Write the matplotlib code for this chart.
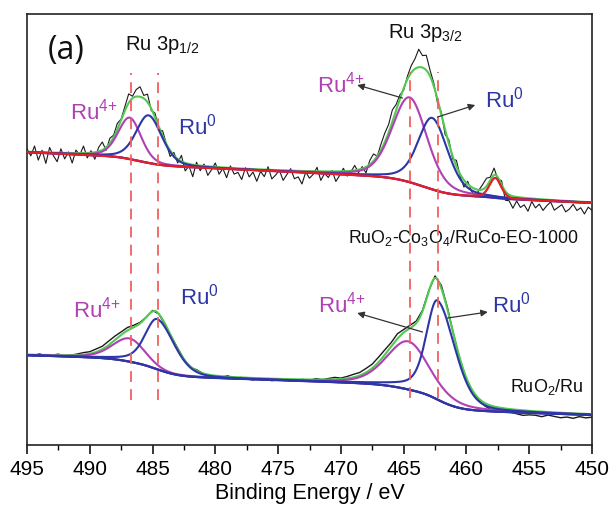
import numpy as np
import matplotlib
matplotlib.use("Agg")
import matplotlib.pyplot as plt

# ---------------- data (peak-fit parameters) ----------------
x_ticks = [495, 490, 485, 480, 475, 470, 465, 460, 455, 450]

# upper spectrum: RuO2-Co3O4/RuCo-EO-1000
top_ru4_center = [486.8, 464.5]
top_ru4_height = [43, 88]
top_ru4_fwhm_hi = [2.2, 3.3]
top_ru4_fwhm_lo = [2.2, 3.3]
top_ru0_center = [485.3, 462.7]
top_ru0_height = [46, 68]
top_ru0_fwhm_hi = [2.3, 2.6]
top_ru0_fwhm_lo = [2.5, 2.9]
top_sat_center = [457.7]
top_sat_height = [20]
top_sat_fwhm = [1.1]
top_bg_right = 242
top_bg_slope = 0.55
top_ru4_step = [4, 9]
top_ru0_step = [4, 8]
top_sat_step = [1]
# residual of measured data vs fit, every 0.3 eV from 495 eV
top_resid = [3, -4, 6, -8, 2, -11, 5, -3, -9, 4, -6, 1, -10, 3, -2, 7, -5, 2, -7, 4, 8, -3, 5, 2,
             6, 1, 4, 9, 2, 7, 10, 3, 8, -2,
             4, -3, 5, 0, -6, 3, -4, 6, -8, -2, -12, 3,
             -5, 2, -9, -3, 4, -7, -1, -10, 2, -6, -4, -11, 1, -8, -3, -12, -2, -7, 3, -9,
             -5, 0, -10, -4, 2, -8, -6, -13, -1, -7, -3, 4, -9, -2, -6, 1, -10, -4, 3, -5,
             -1, 5, -3, 2, -6, 4, 7, 0, 6, 9,
             8, 12, 6, 4, -2, 3, 7, 10, 18, 12, 15, 6, 3, -4, 2,
             -5, 4, -3, 6, -2, -7, 3, -4, -8, 0, 5, 8, 3, 7, -2,
             4, -9, -6, -12, -4, -10, -7, -13, -3, -9, -5, -11, -6, -2, -10, -7, -4, -11, -8,
             -3, -9, -6, -12, -5, -8]

# lower spectrum: RuO2/Ru
bot_ru4_center = [486.7, 464.5]
bot_ru4_height = [28, 55]
bot_ru4_fwhm_hi = [3.3, 4.2]
bot_ru4_fwhm_lo = [3.3, 4.2]
bot_ru0_center = [484.6, 462.3]
bot_ru0_height = [47, 94]
bot_ru0_fwhm_hi = [2.2, 2.0]
bot_ru0_fwhm_lo = [3.2, 3.3]
bot_bg_right = 30
bot_bg_slope = 0.35
bot_ru4_step = [7, 11]
bot_ru0_step = [11, 15]
# residual every 0.5 eV from 495 eV
bot_resid = [0, -1, 1, -1, 0, 1, -1, 0, 1, 2, 2,
             3, 3, 4, 4, 3, 3, 2, 1,
             0, 1, 0, -1, 0, 1, 0, -1, 1, 0,
             -1, 0, -1, 1, -2, 0, -1, -2, 0, -1, -2, -1, 0, -2, -1, 0, -1, 1, 0, 1, 2, 1,
             2, 3, 3, 4, 4, 5, 5, 4, 5, 3,
             3, 2, 1, 1, 2, 3, 2, 0, -1, -2,
             -3, -2, -3, -4, -3, -4, -3, -4, -5, -4, -4, -5, -3, -4, -5, -4, -5, -3, -4, -3]

ref_lines = [486.7, 484.6, 464.5, 462.3]

# ---------------- model helpers ----------------
def pv(E, c, h, w_hi, w_lo, eta=0.3):
    w = np.where(E >= c, w_hi, w_lo)
    u = (E - c) / w
    g = np.exp(-4 * np.log(2) * u ** 2)
    l = 1.0 / (1 + 4 * u ** 2)
    return h * ((1 - eta) * g + eta * l)

Ef = np.linspace(450, 495, 2000)

def cum(prof):
    cs = np.cumsum(prof)          # Ef ascending -> from low binding energy side
    return cs / cs[-1]

def build(E, right, slope, peaks):
    """peaks: list of (center, height, fwhm_hi, fwhm_lo, step, eta, group)"""
    lin = right + slope * (E - 450)
    steps = []
    profs = []
    for (c, h, whi, wlo, s, eta, g) in peaks:
        steps.append(s * np.interp(E, Ef, cum(pv(Ef, c, h, whi, wlo, eta))))
        profs.append(pv(E, c, h, whi, wlo, eta))
    bg = lin + sum(steps)
    comps = []
    for k, (c, h, whi, wlo, s, eta, g) in enumerate(peaks):
        grp = [j for j, p in enumerate(peaks) if p[6] == g]
        s_grp = sum(peaks[j][4] for j in grp)
        own_bg = bg - sum(steps[j] for j in grp) + s_grp * steps[k] / s
        comps.append(own_bg + profs[k])
    env = bg + sum(profs)
    return bg, comps, env

top_peaks = []
for i in range(2):
    top_peaks.append((top_ru4_center[i], top_ru4_height[i], top_ru4_fwhm_hi[i], top_ru4_fwhm_lo[i], top_ru4_step[i], 0.3, i))
for i in range(2):
    top_peaks.append((top_ru0_center[i], top_ru0_height[i], top_ru0_fwhm_hi[i], top_ru0_fwhm_lo[i], top_ru0_step[i], 0.3, i))
top_peaks.append((top_sat_center[0], top_sat_height[0], top_sat_fwhm[0], top_sat_fwhm[0], top_sat_step[0], 0.3, 2))

bot_peaks = []
for i in range(2):
    bot_peaks.append((bot_ru4_center[i], bot_ru4_height[i], bot_ru4_fwhm_hi[i], bot_ru4_fwhm_lo[i], bot_ru4_step[i], 0.35, i))
for i in range(2):
    bot_peaks.append((bot_ru0_center[i], bot_ru0_height[i], bot_ru0_fwhm_hi[i], bot_ru0_fwhm_lo[i], bot_ru0_step[i], 0.25, i))

# ---------------- figure ----------------
plt.rcParams['font.family'] = ['Liberation Sans', 'DejaVu Sans']
plt.rcParams['mathtext.fontset'] = 'custom'
plt.rcParams['mathtext.rm'] = 'Liberation Sans'
plt.rcParams['mathtext.it'] = 'Liberation Sans'

fig = plt.figure(figsize=(6.11, 5.08), dpi=100)
ax = fig.add_axes([27 / 611, 63 / 508, 565 / 611, 431 / 508])

C_BLACK = '#1a1a1a'
C_GREEN = '#52c852'
C_PINK = '#b040b4'
C_BLUE = '#2c36a6'
C_RED = '#e41e28'
C_DASH = '#f06060'

# upper spectrum
Et = 495 - 0.3 * np.arange(len(top_resid))
bg_t, comps_t, env_t = build(Ef, top_bg_right, top_bg_slope, top_peaks)
_, _, env_td = build(Et, top_bg_right, top_bg_slope, top_peaks)
data_t = env_td + np.array(top_resid)
ax.plot(Et, data_t, color=C_BLACK, lw=0.8, zorder=2)
ax.plot(Ef, env_t, color=C_GREEN, lw=1.5, zorder=3)
for k in (0, 1):
    ax.plot(Ef, comps_t[k], color=C_PINK, lw=1.5, zorder=4)
for k in (2, 3):
    ax.plot(Ef, comps_t[k], color=C_BLUE, lw=1.5, zorder=5)
ax.plot(Ef, comps_t[4], color=C_RED, lw=1.6, zorder=6)

# lower spectrum
Eb = 495 - 0.5 * np.arange(len(bot_resid))
bg_b, comps_b, env_b = build(Ef, bot_bg_right, bot_bg_slope, bot_peaks)
_, _, env_bd = build(Eb, bot_bg_right, bot_bg_slope, bot_peaks)
data_b = env_bd + np.array(bot_resid)
ax.plot(Eb, data_b, color=C_BLACK, lw=1.0, zorder=2)
ax.plot(Ef, env_b, color=C_GREEN, lw=1.5, zorder=3)
for k in (0, 1):
    ax.plot(Ef, comps_b[k], color=C_PINK, lw=1.5, zorder=4)
for k in (2, 3):
    ax.plot(Ef, comps_b[k], color=C_BLUE, lw=1.5, zorder=5)
ax.plot(Ef, bg_b, color=C_BLUE, lw=1.5, zorder=5)

# reference dashed lines
for i, e in enumerate(ref_lines):
    y0, y1 = (45, 372) if i < 2 else (47, 373)
    ax.plot([e, e], [y0, y1], color=C_DASH, lw=1.3, dashes=(6, 4), zorder=7)

ax.set_xlim(495, 450)
ax.set_ylim(0, 431)
ax.set_xticks(x_ticks)
ax.set_xticks(np.arange(450, 495.1, 2.5), minor=True)
ax.set_yticks([])
ax.tick_params(axis='x', which='major', direction='out', length=6.5, width=1.1,
               labelsize=15, pad=4, top=False)
ax.tick_params(axis='x', which='minor', direction='out', length=3.5, width=1.0, top=False)
for s in ax.spines.values():
    s.set_linewidth(1.2)
    s.set_color('#222222')
ax.set_xlabel('Binding Energy / eV', fontsize=15.5, labelpad=3)

# texts
ax.text(491.9, 394, '(a)', fontsize=23, family=['Open Sans', 'DejaVu Sans'],
        ha='center', va='center', color='#111111')
ax.text(487.2, 400, 'Ru 3p$_{\\mathregular{1/2}}$', fontsize=14.5, ha='left', va='center', color='#111111')
ax.text(466.25, 412, 'Ru 3p$_{\\mathregular{3/2}}$', fontsize=14.5, ha='left', va='center', color='#111111')

sup4 = '$\\mathregular{Ru^{4{+}}}$'
sup0 = '$\\mathregular{Ru^{0}}$'
fs_lab = 16
ax.text(491.6, 333, sup4, fontsize=fs_lab, color=C_PINK, ha='left', va='center')
ax.text(483.0, 318, sup0, fontsize=fs_lab, color=C_BLUE, ha='left', va='center')
ax.text(471.9, 360, sup4, fontsize=fs_lab, color=C_PINK, ha='left', va='center')
ax.text(458.5, 345, sup0, fontsize=fs_lab, color=C_BLUE, ha='left', va='center')
ax.text(491.3, 135, sup4, fontsize=fs_lab, color=C_PINK, ha='left', va='center')
ax.text(482.8, 148, sup0, fontsize=fs_lab, color=C_BLUE, ha='left', va='center')
ax.text(471.8, 140, sup4, fontsize=fs_lab, color=C_PINK, ha='left', va='center')
ax.text(458.0, 140, sup0, fontsize=fs_lab, color=C_BLUE, ha='left', va='center')

ax.text(451.1, 207, 'RuO$_{\\mathregular{2}}$-Co$_{\\mathregular{3}}$O$_{\\mathregular{4}}$/RuCo-EO-1000',
        fontsize=12.8, ha='right', va='center', color='#111111')
ax.text(450.7, 58, 'RuO$_{\\mathregular{2}}$/Ru', fontsize=13, ha='right', va='center', color='#111111')

arrow_kw = dict(arrowstyle='-|>', color='#333333', lw=0.9, mutation_scale=10, shrinkA=0, shrinkB=0)
ax.annotate('', xy=(468.7, 360), xytext=(465.1, 347), arrowprops=arrow_kw, zorder=8)
ax.annotate('', xy=(459.3, 340), xytext=(462.3, 328), arrowprops=arrow_kw, zorder=8)
ax.annotate('', xy=(468.7, 132), xytext=(463.5, 113), arrowprops=arrow_kw, zorder=8)
ax.annotate('', xy=(458.3, 133), xytext=(461.5, 127), arrowprops=arrow_kw, zorder=8)

fig.savefig('out.png', dpi=100)
